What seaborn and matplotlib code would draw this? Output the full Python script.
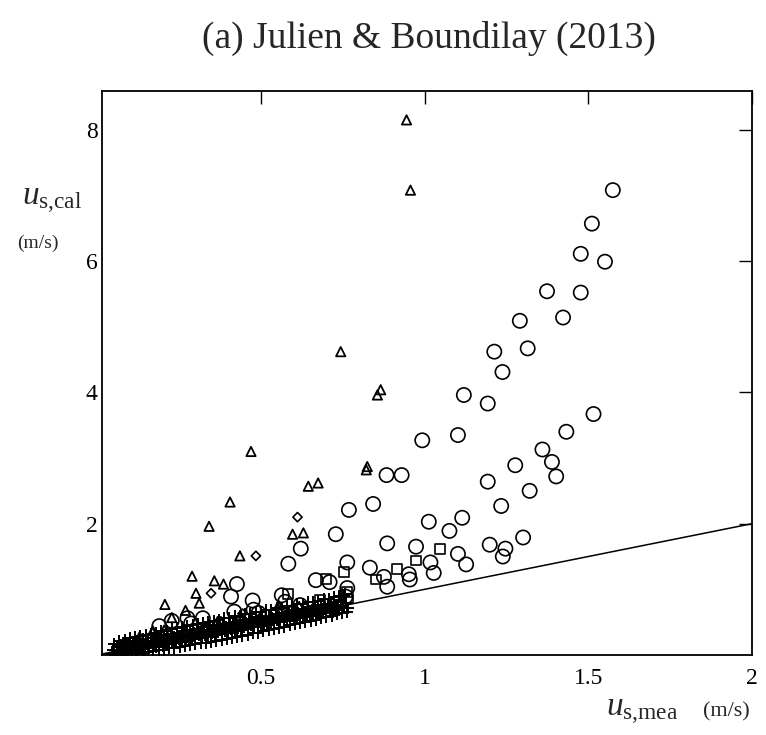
import matplotlib
matplotlib.use("Agg")
import matplotlib.pyplot as plt
import seaborn as sns
import numpy as np
import pandas as pd

# ---------------- data ----------------
circle_x = [1.575, 1.511, 1.477, 1.551, 1.374, 1.477, 1.423, 1.291, 1.213, 1.315,
            1.238, 1.120, 1.193, 0.993, 1.102, 0.884, 0.930, 0.843, 0.769, 0.729,
            0.622, 0.584,
            1.516, 1.433, 1.360, 1.389, 1.402, 1.277, 1.193, 1.321, 1.234, 1.013,
            1.115, 1.076, 1.301, 0.886, 0.974, 1.199, 1.247, 1.239, 1.102, 1.127,
            1.018, 1.028, 0.952, 0.955, 0.876, 0.886, 0.764, 0.833, 0.668, 0.710,
            0.764, 0.759, 0.564, 0.574, 0.620, 0.427, 0.409, 0.475, 0.419, 0.478,
            0.493, 0.323, 0.276, 0.287, 0.228, 0.190]
circle_y = [7.08, 6.57, 6.11, 5.99, 5.54, 5.52, 5.14, 5.09, 4.62, 4.67,
            4.31, 3.96, 3.83, 3.27, 3.35, 2.74, 2.74, 2.30, 2.21, 1.84,
            1.62, 1.39,
            3.67, 3.40, 3.13, 2.94, 2.72, 2.89, 2.64, 2.50, 2.27, 2.03,
            2.09, 1.89, 1.79, 1.70, 1.65, 1.68, 1.62, 1.50, 1.54, 1.38,
            1.41, 1.25, 1.23, 1.15, 1.19, 1.04, 1.41, 1.33, 1.14, 1.11,
            1.02, 0.89, 0.91, 0.81, 0.76, 1.08, 0.89, 0.83, 0.66, 0.69,
            0.64, 0.56, 0.56, 0.48, 0.52, 0.44]

tri_x = [0.945, 0.957, 0.744, 0.866, 0.856, 0.825, 0.822, 0.470, 0.645, 0.675,
         0.406, 0.342, 0.597, 0.630, 0.436, 0.358, 0.386, 0.290, 0.302, 0.312,
         0.207, 0.270, 0.228, 0.170, 0.205, 0.130, 0.368, 0.378, 0.554, 0.617]
tri_y = [8.15, 7.08, 4.62, 4.04, 3.96, 2.87, 2.82, 3.10, 2.57, 2.62,
         2.33, 1.96, 1.84, 1.86, 1.51, 1.13, 1.08, 1.20, 0.94, 0.79,
         0.77, 0.68, 0.57, 0.37, 0.38, 0.28, 0.51, 0.51, 0.76, 0.74]

dia_x = [0.612, 0.485, 0.348, 0.444]
dia_y = [2.10, 1.51, 0.94, 0.63]

sq_x = [0.583, 0.698, 0.754, 0.851, 0.915, 0.973, 1.046, 0.764, 0.681, 0.767, 0.566]
sq_y = [0.93, 1.16, 1.27, 1.15, 1.31, 1.44, 1.61, 0.96, 0.84, 0.86, 0.66]

# dense band of "+" points near the 1:1 line
plus_x = [0.045, 0.050, 0.055, 0.060, 0.065, 0.070, 0.072, 0.078, 0.080, 0.085,
          0.090, 0.095, 0.100, 0.100, 0.105, 0.110, 0.115, 0.120, 0.120, 0.125,
          0.130, 0.135, 0.140, 0.140, 0.145, 0.150, 0.155, 0.160, 0.165, 0.170,
          0.175, 0.180, 0.185, 0.190, 0.195, 0.200, 0.205, 0.210, 0.215, 0.220,
          0.225, 0.230, 0.235, 0.240, 0.245, 0.250, 0.255, 0.260, 0.265, 0.270,
          0.275, 0.280, 0.285, 0.290, 0.295, 0.300, 0.305, 0.310, 0.315, 0.320,
          0.325, 0.330, 0.335, 0.340, 0.345, 0.350, 0.355, 0.360, 0.365, 0.370,
          0.375, 0.380, 0.385, 0.390, 0.395, 0.400, 0.405, 0.410, 0.415, 0.420,
          0.425, 0.430, 0.435, 0.440, 0.445, 0.450, 0.455, 0.460, 0.465, 0.470,
          0.475, 0.480, 0.485, 0.490, 0.495, 0.500, 0.505, 0.510, 0.515, 0.520,
          0.525, 0.530, 0.535, 0.540, 0.545, 0.550, 0.555, 0.560, 0.565, 0.570,
          0.575, 0.580, 0.585, 0.590, 0.595, 0.600, 0.605, 0.610, 0.615, 0.620,
          0.625, 0.630, 0.635, 0.640, 0.645, 0.650, 0.655, 0.660, 0.665, 0.670,
          0.675, 0.680, 0.685, 0.690, 0.695, 0.700, 0.705, 0.710, 0.715, 0.720,
          0.725, 0.730, 0.735, 0.740, 0.745, 0.750, 0.755, 0.760, 0.765]
plus_y = [0.02, 0.08, 0.00, 0.12, 0.05, 0.15, 0.03, 0.10, 0.18, 0.06,
          0.13, 0.01, 0.20, 0.09, 0.04, 0.16, 0.11, 0.22, 0.06, 0.14,
          0.19, 0.09, 0.24, 0.13, 0.05, 0.17, 0.21, 0.10, 0.26, 0.15,
          0.20, 0.12, 0.28, 0.18, 0.23, 0.14, 0.30, 0.20, 0.25, 0.16,
          0.32, 0.22, 0.27, 0.18, 0.34, 0.24, 0.29, 0.20, 0.36, 0.26,
          0.31, 0.22, 0.38, 0.28, 0.33, 0.24, 0.40, 0.30, 0.35, 0.26,
          0.42, 0.31, 0.37, 0.28, 0.44, 0.33, 0.39, 0.30, 0.46, 0.35,
          0.41, 0.32, 0.47, 0.37, 0.43, 0.34, 0.49, 0.39, 0.45, 0.36,
          0.51, 0.41, 0.47, 0.38, 0.53, 0.43, 0.49, 0.40, 0.55, 0.45,
          0.51, 0.42, 0.57, 0.47, 0.53, 0.44, 0.58, 0.49, 0.55, 0.46,
          0.60, 0.51, 0.57, 0.48, 0.62, 0.53, 0.58, 0.50, 0.64, 0.55,
          0.60, 0.52, 0.66, 0.57, 0.62, 0.54, 0.68, 0.59, 0.64, 0.56,
          0.70, 0.61, 0.66, 0.58, 0.72, 0.63, 0.68, 0.60, 0.74, 0.65,
          0.70, 0.62, 0.76, 0.67, 0.72, 0.64, 0.78, 0.69, 0.74, 0.66,
          0.80, 0.71, 0.76, 0.68, 0.84, 0.74, 0.90, 0.79, 0.72]

plus2_x = [0.052, 0.060, 0.068, 0.076, 0.084, 0.092, 0.100, 0.108, 0.116, 0.124,
           0.132, 0.140, 0.148, 0.156, 0.164, 0.172, 0.180, 0.188, 0.196, 0.204,
           0.212, 0.220, 0.228, 0.236, 0.244, 0.252, 0.260, 0.268, 0.276, 0.284,
           0.292, 0.300, 0.308, 0.316, 0.324, 0.332, 0.340, 0.348, 0.356, 0.364,
           0.372, 0.380, 0.388, 0.396, 0.404, 0.412, 0.420, 0.428, 0.436, 0.444,
           0.452, 0.460, 0.468, 0.476, 0.484, 0.492, 0.500, 0.508, 0.516, 0.524,
           0.532, 0.540, 0.548, 0.556, 0.564, 0.572, 0.580, 0.588, 0.596, 0.604,
           0.612, 0.620, 0.628, 0.636, 0.644, 0.652, 0.660, 0.668, 0.676, 0.684,
           0.692, 0.700, 0.708, 0.716, 0.724, 0.732, 0.740, 0.748, 0.756, 0.764]
plus2_y = [0.17, 0.01, 0.21, 0.00, 0.23, 0.01, 0.26, 0.01, 0.27, 0.02,
           0.29, 0.03, 0.30, 0.05, 0.32, 0.06, 0.34, 0.07, 0.36, 0.08,
           0.37, 0.10, 0.39, 0.11, 0.41, 0.12, 0.42, 0.14, 0.44, 0.15,
           0.46, 0.16, 0.47, 0.18, 0.49, 0.19, 0.51, 0.20, 0.52, 0.22,
           0.54, 0.23, 0.56, 0.25, 0.57, 0.26, 0.59, 0.28, 0.60, 0.29,
           0.62, 0.31, 0.63, 0.33, 0.65, 0.34, 0.66, 0.36, 0.68, 0.38,
           0.69, 0.40, 0.71, 0.41, 0.72, 0.43, 0.74, 0.45, 0.75, 0.47,
           0.77, 0.49, 0.78, 0.50, 0.80, 0.52, 0.81, 0.54, 0.83, 0.56,
           0.85, 0.58, 0.86, 0.60, 0.88, 0.62, 0.90, 0.64, 0.93, 0.66]

line_x = [0.0, 2.0]
line_y = [0.0, 2.0]

x_ticks = [0.5, 1, 1.5, 2]
x_ticklabels = ["0.5", "1", "1.5", "2"]
y_ticks = [2, 4, 6, 8]
y_ticklabels = ["2", "4", "6", "8"]

title = "(a) Julien & Boundilay (2013)"

# ---------------- style ----------------
sns.set_theme(style="white")
plt.rcParams["font.family"] = ["Liberation Serif", "DejaVu Serif"]
plt.rcParams["mathtext.fontset"] = "custom"
plt.rcParams["mathtext.rm"] = "Liberation Serif"
plt.rcParams["mathtext.it"] = "Liberation Serif:italic"

W, H = 766, 735
fig = plt.figure(figsize=(W / 100, H / 100), dpi=100)
ax = fig.add_axes([102 / W, 1 - 655 / H, (752 - 102) / W, (655 - 91) / H])

df_c = pd.DataFrame({"x": circle_x, "y": circle_y})
df_t = pd.DataFrame({"x": tri_x, "y": tri_y})
df_d = pd.DataFrame({"x": dia_x, "y": dia_y})
df_s = pd.DataFrame({"x": sq_x, "y": sq_y})
df_p = pd.DataFrame({"x": plus_x + plus2_x, "y": plus_y + plus2_y})
df_l = pd.DataFrame({"x": line_x, "y": line_y})

sns.lineplot(data=df_l, x="x", y="y", color="black", linewidth=1.1, ax=ax, zorder=2)
sns.scatterplot(data=df_c, x="x", y="y", marker="o", s=105, facecolor="none",
                edgecolor="black", linewidth=1.2, ax=ax, zorder=3)
sns.scatterplot(data=df_t, x="x", y="y", marker="^", s=45, facecolor="none",
                edgecolor="black", linewidth=1.3, ax=ax, zorder=3)
sns.scatterplot(data=df_d, x="x", y="y", marker="D", s=22, facecolor="none",
                edgecolor="black", linewidth=1.2, ax=ax, zorder=3)
sns.scatterplot(data=df_s, x="x", y="y", marker="s", s=50, facecolor="none",
                edgecolor="black", linewidth=1.2, ax=ax, zorder=3)
sns.scatterplot(data=df_p, x="x", y="y", marker="+", s=75, color="black",
                linewidth=1.4, ax=ax, zorder=4)

ax.set_xlim(0.015, 2.0)
ax.set_ylim(0.0, 8.59)
ax.set_xticks(x_ticks)
ax.set_xticklabels(x_ticklabels)
ax.set_yticks(y_ticks)
ax.set_yticklabels(y_ticklabels)
ax.set_xlabel("")
ax.set_ylabel("")
ax.tick_params(direction="in", length=9.5, width=1.0, top=True, right=True,
               labelsize=17, color="black", labelcolor="black")
ax.tick_params(axis="x", pad=9)
ax.tick_params(axis="y", pad=3)
for sp in ax.spines.values():
    sp.set_color("black")
    sp.set_linewidth(1.3)
ax.grid(False)

fig.text(429 / W, 1 - 38 / H, title, ha="center", va="center", fontsize=27)
fig.text(22 / W, 1 - 205 / H, r"$u_{\mathrm{s{,}cal}}$", ha="left", va="baseline", fontsize=24)
fig.text(38 / W, 1 - 243 / H, "(m/s)", ha="center", va="center", fontsize=14)
fig.text(606 / W, 1 - 716 / H, r"$u_{\mathrm{s{,}mea}}$", ha="left", va="baseline", fontsize=24)
fig.text(726 / W, 1 - 716 / H, "(m/s)", ha="center", va="baseline", fontsize=16)

fig.savefig("out.png", dpi=100)
